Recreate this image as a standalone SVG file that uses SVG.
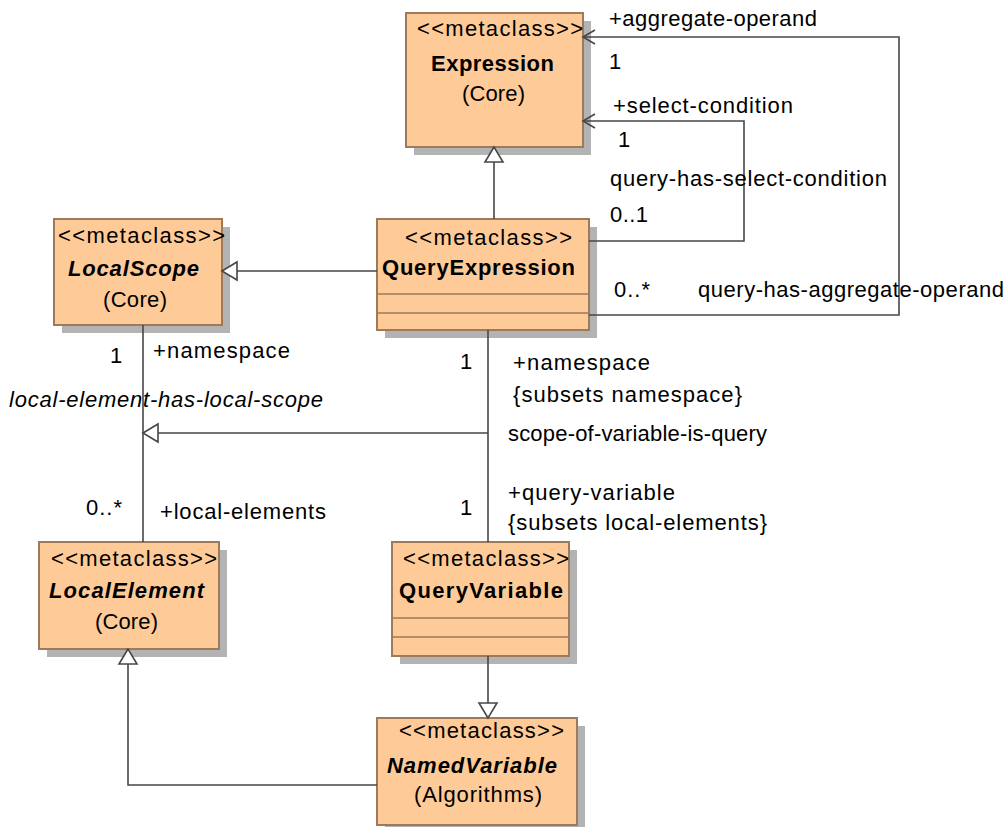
<svg xmlns="http://www.w3.org/2000/svg" width="1007" height="827" viewBox="0 0 1007 827">
<style>
text{font-family:"Liberation Sans",Arial,sans-serif;font-size:22px;fill:#000}
.b{font-weight:bold}
.bi{font-weight:bold;font-style:italic}
.i{font-style:italic}
.box{fill:#FECB98;stroke:#9C7A5A;stroke-width:2}
.sh{fill:#B3B3B3}
.cmp{stroke:#9C7A5A;stroke-width:1.5}
.ln{fill:none;stroke:#474747;stroke-width:1.6}
.tri{fill:#fff;stroke:#474747;stroke-width:1.6}
</style>
<rect width="1007" height="827" fill="#fff"/>
<g id="Expression">
<rect class="sh" x="414" y="21" width="177" height="134"/>
<rect class="box" x="406" y="13" width="177" height="134"/>
<text x="417" y="36" textLength="166">&lt;&lt;metaclass&gt;&gt;</text>
<text class="b" x="431" y="71" textLength="123">Expression</text>
<text x="462" y="101" textLength="63">(Core)</text>
</g>
<g id="LocalScope">
<rect class="sh" x="62" y="227" width="168" height="106"/>
<rect class="box" x="54" y="219" width="168" height="106"/>
<text x="58" y="243" textLength="167">&lt;&lt;metaclass&gt;&gt;</text>
<text class="bi" x="68" y="276" textLength="131">LocalScope</text>
<text x="103" y="307" textLength="64">(Core)</text>
</g>
<g id="QueryExpression">
<rect class="sh" x="385" y="227" width="212" height="111"/>
<rect class="box" x="377" y="219" width="212" height="111"/>
<line class="cmp" x1="377" y1="294" x2="589" y2="294"/>
<line class="cmp" x1="377" y1="313" x2="589" y2="313"/>
<text x="405" y="245" textLength="167">&lt;&lt;metaclass&gt;&gt;</text>
<text class="b" x="382" y="275" textLength="193">QueryExpression</text>
</g>
<g id="LocalElement">
<rect class="sh" x="47" y="550" width="180" height="107"/>
<rect class="box" x="39" y="542" width="180" height="107"/>
<text x="51" y="566" textLength="166">&lt;&lt;metaclass&gt;&gt;</text>
<text class="bi" x="49" y="598" textLength="155">LocalElement</text>
<text x="95" y="629" textLength="63">(Core)</text>
</g>
<g id="QueryVariable">
<rect class="sh" x="400" y="550" width="177" height="114"/>
<rect class="box" x="392" y="542" width="177" height="114"/>
<line class="cmp" x1="392" y1="618" x2="569" y2="618"/>
<line class="cmp" x1="392" y1="637" x2="569" y2="637"/>
<text x="403" y="566" textLength="166">&lt;&lt;metaclass&gt;&gt;</text>
<text class="b" x="399" y="598" textLength="164">QueryVariable</text>
</g>
<g id="NamedVariable">
<rect class="sh" x="385" y="726" width="200" height="107"/>
<rect class="box" x="377" y="718" width="200" height="107"/>
<text x="399" y="738" textLength="165">&lt;&lt;metaclass&gt;&gt;</text>
<text class="bi" x="387" y="773" textLength="170">NamedVariable</text>
<text x="414" y="802" textLength="128">(Algorithms)</text>
</g>
<g id="connectors">
<line class="ln" x1="494" y1="219" x2="494" y2="162"/>
<polygon class="tri" points="494,147 485,162 503,162"/>
<line class="ln" x1="377" y1="271" x2="237" y2="271"/>
<polygon class="tri" points="222,271 237,262 237,280"/>
<line class="ln" x1="488" y1="433" x2="158" y2="433"/>
<polygon class="tri" points="143,433 158,424 158,442"/>
<line class="ln" x1="488" y1="656" x2="488" y2="703"/>
<polygon class="tri" points="488,718 479,703 497,703"/>
<polyline class="ln" points="377,785 128,785 128,664"/>
<polygon class="tri" points="128,649 119,664 137,664"/>
<line class="ln" x1="143" y1="325" x2="143" y2="542"/>
<line class="ln" x1="488" y1="330" x2="488" y2="542"/>
<polyline class="ln" points="589,315 899,315 899,37 583,37"/>
<polyline class="ln" points="595,30 583,37 595,44"/>
<polyline class="ln" points="589,241 744,241 744,121 583,121"/>
<polyline class="ln" points="595,114 583,121 595,128"/>
</g>
<g id="labels">
<text x="609" y="26" textLength="208">+aggregate-operand</text>
<text x="609" y="69">1</text>
<text x="613" y="113" textLength="180">+select-condition</text>
<text x="618" y="147">1</text>
<text x="610" y="186" textLength="277">query-has-select-condition</text>
<text x="610" y="222" textLength="38">0..1</text>
<text x="614" y="297" textLength="36">0..*</text>
<text x="698" y="297" textLength="306">query-has-aggregate-operand</text>
<text x="110" y="363">1</text>
<text x="153" y="358" textLength="137">+namespace</text>
<text class="i" x="9" y="407" textLength="314">local-element-has-local-scope</text>
<text x="86" y="515" textLength="36">0..*</text>
<text x="160" y="519" textLength="166">+local-elements</text>
<text x="460" y="369">1</text>
<text x="460" y="515">1</text>
<text x="513" y="370" textLength="137">+namespace</text>
<text x="513" y="402" textLength="229">{subsets namespace}</text>
<text x="508" y="441" textLength="259">scope-of-variable-is-query</text>
<text x="508" y="500" textLength="167">+query-variable</text>
<text x="508" y="530" textLength="259">{subsets local-elements}</text>
</g>
</svg>
